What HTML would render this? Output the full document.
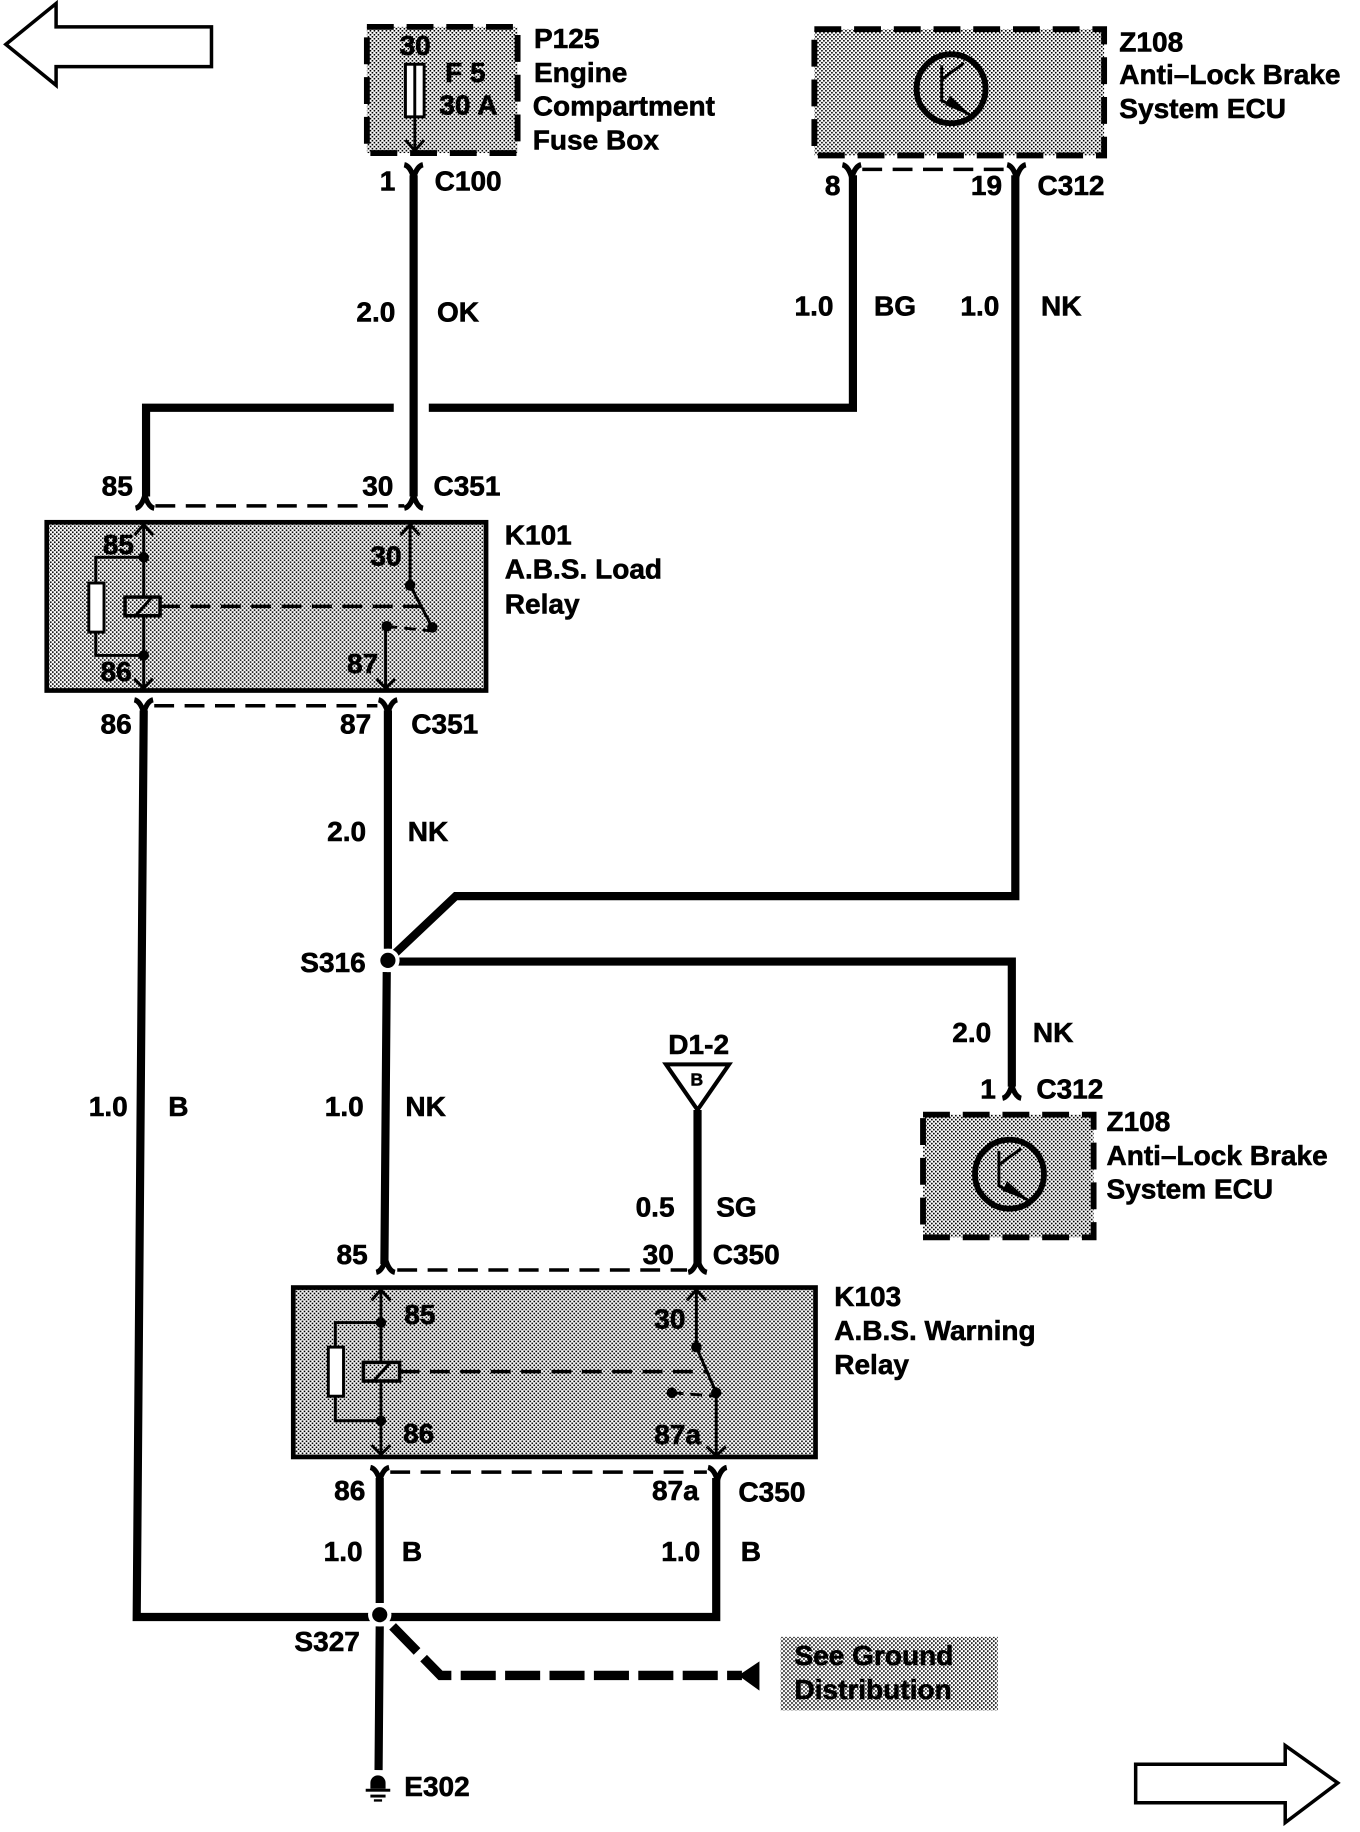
<!DOCTYPE html>
<html>
<head>
<meta charset="utf-8">
<style>
html,body{margin:0;padding:0;background:#fff;width:1360px;height:1832px;overflow:hidden}
svg{display:block}
text{font-family:"Liberation Sans",sans-serif;font-weight:bold;font-size:24px;fill:#000;stroke:#000;stroke-width:.5}
.w{stroke:#000;stroke-width:7;fill:none}
.t{stroke:#000;stroke-width:2.5;fill:none}
.d{stroke:#000;stroke-width:3;fill:none;stroke-dasharray:17 9}
.bd{stroke:#000;stroke-width:5;stroke-dasharray:23 11}
</style>
</head>
<body>
<svg width="1360" height="1832" viewBox="0 0 1164 1568" xmlns="http://www.w3.org/2000/svg">
<defs>
<pattern id="h" width="3.42" height="3.42" patternUnits="userSpaceOnUse">
<rect width="3.42" height="3.42" fill="#fff"/>
<rect x="0" y="0" width="1.4" height="1.4" fill="#000"/>
<rect x="1.71" y="1.71" width="1.4" height="1.4" fill="#000"/>
</pattern>
<g id="yd"><path d="M-8,-5 Q-3,-4 0,6 Q3,-4 8,-5" fill="none" stroke="#000" stroke-width="4.5"/></g>
<g id="yu"><path d="M-8,5 Q-3,4 0,-6 Q3,4 8,5" fill="none" stroke="#000" stroke-width="4.5"/></g>
</defs>

<!-- page arrows -->
<polygon points="5,38 48,3 48,23 181,23 181,57 48,57 48,73" fill="#fff" stroke="#000" stroke-width="3"/>
<polygon points="972,1510 1100,1510 1100,1494 1145,1526 1100,1560 1100,1543 972,1543" fill="#fff" stroke="#000" stroke-width="3"/>

<!-- P125 -->
<rect x="314" y="23" width="129" height="108" fill="url(#h)" class="bd"/>
<rect x="347" y="55" width="16" height="45" fill="#fff" stroke="#000" stroke-width="2.5"/>
<path class="t" d="M355,55V128M347,120L355,129L363,120"/>
<text x="342" y="47">30</text><text x="381" y="70">F 5</text><text x="376" y="98">30 A</text>
<text x="457" y="41">P125</text><text x="457" y="70">Engine</text><text x="456" y="99">Compartment</text><text x="456" y="128">Fuse Box</text>

<!-- top Z108 -->
<rect x="697" y="25" width="248" height="108" fill="url(#h)" class="bd"/>
<circle cx="814" cy="76" r="29.5" fill="none" stroke="#000" stroke-width="5"/>
<path class="t" d="M806,56V87M806,68L825,54M806,86L830,98"/>
<polygon points="831,99 813,82 809,90" fill="#000"/>
<text x="958" y="44">Z108</text><text x="958" y="72">Anti–Lock Brake</text><text x="958" y="101">System ECU</text>

<!-- top connectors -->
<use href="#yd" x="354" y="146"/>
<text x="325" y="163">1</text><text x="372" y="163">C100</text>
<use href="#yd" x="729" y="146"/><use href="#yd" x="870" y="146"/>
<path class="d" d="M738,145H862"/>
<text x="706" y="167">8</text><text x="831" y="167">19</text><text x="888" y="167">C312</text>

<!-- wires -->
<path class="w" d="M354,150V425"/>
<path class="w" d="M125,425V349H337M367,349H730V150"/>
<path class="w" d="M869,150V767H390L335,819"/>
<path class="w" d="M332,823H866V930"/>
<path class="w" d="M123,608L117,1384H322M332,1384H613V1265"/>
<path class="w" d="M332,608V812M331,832L329,1082"/>
<path class="w" d="M597,950V1082"/>
<path class="w" d="M325,1265V1372M325,1392L324,1515"/>
<path d="M336,1392L377,1434H635" fill="none" stroke="#000" stroke-width="8" stroke-dasharray="30 8"/>
<polygon points="650,1422 650,1447 632,1434" fill="#000"/>

<text x="305" y="275">2.0</text><text x="374" y="275">OK</text>
<text x="680" y="270">1.0</text><text x="748" y="270">BG</text><text x="822" y="270">1.0</text><text x="891" y="270">NK</text>

<!-- C351 upper -->
<text x="87" y="424">85</text><text x="310" y="424">30</text><text x="371" y="424">C351</text>
<use href="#yu" x="124" y="430"/><use href="#yu" x="354" y="430"/>
<path class="d" d="M133,433H346"/>

<!-- K101 -->
<rect x="40" y="447" width="376" height="144" fill="url(#h)" stroke="#000" stroke-width="4"/>
<path class="t" d="M123,449V589M115,458L123,449L131,458M115,581L123,589L131,581"/>
<path class="t" d="M123,477H82V561H123" stroke-width="3"/>
<circle cx="123" cy="477" r="4.5"/><circle cx="123" cy="561" r="4.5"/>
<rect x="76" y="499" width="13" height="42" fill="#fff" stroke="#000" stroke-width="2.5"/>
<rect x="107" y="511" width="30" height="16" fill="url(#h)" stroke="#000" stroke-width="3"/>
<path class="t" d="M116,527L130,511"/>
<path class="d" d="M137,519H362"/>
<path class="t" d="M351,449V501L370,537M343,458L351,449L359,458"/>
<circle cx="351" cy="501" r="4.5"/><circle cx="370" cy="537" r="4.5"/>
<path class="t" d="M330,536V589M322,581L330,589L338,581" />
<path class="t" d="M330,536L370,540" stroke-dasharray="10 6"/>
<circle cx="331" cy="536" r="4.5"/>
<text x="88" y="474">85</text><text x="317" y="484">30</text><text x="86" y="583">86</text><text x="297" y="576">87</text>
<text x="432" y="466">K101</text><text x="432" y="495">A.B.S. Load</text><text x="432" y="525">Relay</text>

<!-- C351 lower -->
<use href="#yd" x="123" y="604"/><use href="#yd" x="332" y="604"/>
<path class="d" d="M132,604H323"/>
<text x="86" y="628">86</text><text x="291" y="628">87</text><text x="352" y="628">C351</text>
<text x="280" y="720">2.0</text><text x="349" y="720">NK</text>

<!-- S316 -->
<circle cx="332" cy="822" r="10" fill="#fff"/><circle cx="332" cy="822" r="6.5"/>
<text x="257" y="832">S316</text>
<text x="76" y="955">1.0</text><text x="144" y="955">B</text><text x="278" y="955">1.0</text><text x="347" y="955">NK</text>
<text x="815" y="892">2.0</text><text x="884" y="892">NK</text>
<text x="839" y="940">1</text><text x="887" y="940">C312</text>
<use href="#yu" x="866" y="935"/>

<!-- lower Z108 -->
<rect x="790" y="954" width="146" height="105" fill="url(#h)" class="bd"/>
<circle cx="864" cy="1005" r="29.5" fill="none" stroke="#000" stroke-width="5"/>
<path class="t" d="M855,985V1016M855,997L874,983M855,1015L880,1027"/>
<polygon points="881,1028 862,1011 858,1019" fill="#000"/>
<text x="947" y="968">Z108</text><text x="947" y="997">Anti–Lock Brake</text><text x="947" y="1026">System ECU</text>

<!-- D1-2 -->
<text x="572" y="902">D1-2</text>
<polygon points="570,911 624,911 597,950" fill="#fff" stroke="#000" stroke-width="3.5"/>
<text x="591" y="929" style="font-size:15px">B</text>
<text x="544" y="1041">0.5</text><text x="613" y="1041">SG</text>

<!-- C350 upper -->
<text x="288" y="1082">85</text><text x="550" y="1082">30</text><text x="610" y="1082">C350</text>
<use href="#yu" x="330" y="1084"/><use href="#yu" x="597" y="1084"/>
<path class="d" d="M340,1087H588"/>

<!-- K103 -->
<rect x="251" y="1102" width="447" height="145" fill="url(#h)" stroke="#000" stroke-width="4"/>
<path class="t" d="M326,1104V1245M318,1113L326,1104L334,1113M318,1237L326,1245L334,1237"/>
<path class="t" d="M326,1132H287V1216H326" stroke-width="3"/>
<circle cx="326" cy="1132" r="4.5"/><circle cx="326" cy="1216" r="4.5"/>
<rect x="281" y="1153" width="13" height="42" fill="#fff" stroke="#000" stroke-width="2.5"/>
<rect x="311" y="1166" width="31" height="16" fill="url(#h)" stroke="#000" stroke-width="3"/>
<path class="t" d="M320,1182L334,1166"/>
<path class="d" d="M342,1174H604"/>
<path class="t" d="M596,1104V1153L613,1192V1246M588,1113L596,1104L604,1113M605,1238L613,1246L621,1238"/>
<circle cx="596" cy="1153" r="4.5"/><circle cx="613" cy="1192" r="4.5"/>
<path class="t" d="M575,1192L613,1195" stroke-dasharray="10 6"/>
<circle cx="575" cy="1192" r="4.5"/>
<text x="346" y="1133">85</text><text x="560" y="1137">30</text><text x="345" y="1235">86</text><text x="560" y="1236">87a</text>
<text x="714" y="1118">K103</text><text x="714" y="1147">A.B.S. Warning</text><text x="714" y="1176">Relay</text>

<!-- C350 lower -->
<use href="#yd" x="325" y="1261"/><use href="#yd" x="614" y="1261"/>
<path class="d" d="M334,1260H605"/>
<text x="286" y="1284">86</text><text x="558" y="1284">87a</text><text x="632" y="1285">C350</text>
<text x="277" y="1336">1.0</text><text x="344" y="1336">B</text><text x="566" y="1336">1.0</text><text x="634" y="1336">B</text>

<!-- S327 -->
<circle cx="325" cy="1382" r="10" fill="#fff"/><circle cx="325" cy="1382" r="6.5"/>
<text x="252" y="1413">S327</text>

<!-- ground -->
<path d="M317,1531V1526A6,6 0 0 1 330,1526V1531Z" fill="#000"/>
<rect x="313" y="1531" width="21" height="2.5"/><rect x="317" y="1536" width="13" height="2.5"/><rect x="320" y="1540" width="7" height="2"/>
<text x="346" y="1537">E302</text>

<!-- see ground -->
<rect x="668" y="1401" width="186" height="63" fill="url(#h)"/>
<text x="680" y="1425">See Ground</text><text x="680" y="1454">Distribution</text>
</svg>
</body>
</html>
